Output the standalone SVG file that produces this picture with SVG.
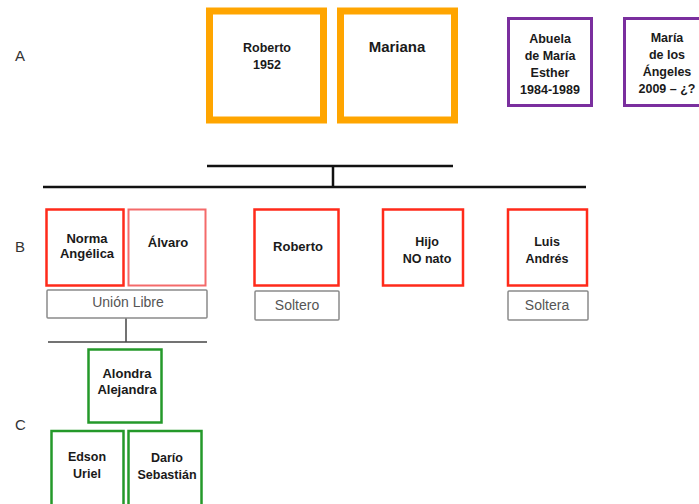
<svg xmlns="http://www.w3.org/2000/svg" width="699" height="504" viewBox="0 0 699 504">
<style>
text{font-family:"Liberation Sans",Arial,sans-serif;fill:#1a1a1a;text-anchor:middle}
.b{font-weight:bold;font-size:12.5px}
.g{font-weight:bold;font-size:13px}
.lvl{font-size:15px;fill:#333;text-anchor:start}
.st{font-size:14px;fill:#555}
.orange{fill:#fff;stroke:#FFA500;stroke-width:7}
.purple{fill:#fff;stroke:#7a2f9e;stroke-width:3}
.red{fill:#fff;stroke:#ff2a1a;stroke-width:2.5}
.red2{fill:#fff;stroke:#f46a6a;stroke-width:2}
.green{fill:#fff;stroke:#24992a;stroke-width:2.5}
.gray{fill:#fff;stroke:#8a8a8a;stroke-width:1.5}
.ln{stroke:#111;stroke-width:2.5;fill:none}
.ln2{stroke:#444;stroke-width:1.5;fill:none}
</style>
<rect width="699" height="504" fill="#fff"/>
<g id="levels">
<text class="lvl" x="15" y="61">A</text>
<text class="lvl" x="15" y="252">B</text>
<text class="lvl" x="15" y="430">C</text>
</g>
<g id="connectors">
<line class="ln" x1="207" y1="166" x2="453" y2="166"/>
<line class="ln" x1="43" y1="187" x2="586" y2="187"/>
<line class="ln" x1="333" y1="166" x2="333" y2="187"/>
<line class="ln2" x1="126" y1="318" x2="126" y2="342"/>
<line class="ln2" x1="48" y1="342" x2="207" y2="342"/>
</g>
<g id="roberto1952">
<rect class="orange" x="209.5" y="11" width="114" height="109"/>
<text class="b" x="267" y="52">Roberto</text>
<text class="b" x="267" y="69">1952</text>
</g>
<g id="mariana">
<rect class="orange" x="340.5" y="11" width="114" height="109"/>
<text class="g" x="397" y="52" style="font-size:15px">Mariana</text>
</g>
<g id="abuela">
<rect class="purple" x="508.5" y="18.5" width="83" height="87"/>
<text class="b" x="550" y="43">Abuela</text>
<text class="b" x="550" y="60">de María</text>
<text class="b" x="550" y="77">Esther</text>
<text class="b" x="550" y="94">1984-1989</text>
</g>
<g id="mariaangeles">
<rect class="purple" x="624.5" y="18.5" width="85" height="87"/>
<text class="b" x="667" y="42">María</text>
<text class="b" x="667" y="59">de los</text>
<text class="b" x="667" y="76">Ángeles</text>
<text class="b" x="667" y="93">2009 – ¿?</text>
</g>
<g id="norma">
<rect class="red" x="46.5" y="209.5" width="77" height="76"/>
<text class="g" x="87" y="243">Norma</text>
<text class="g" x="87" y="258">Angélica</text>
</g>
<g id="alvaro">
<rect class="red2" x="128.5" y="209.5" width="77" height="76"/>
<text class="g" x="168" y="247">Álvaro</text>
</g>
<g id="union">
<rect class="gray" x="47" y="290" width="160" height="28" rx="1"/>
<text class="st" x="128" y="307">Unión Libre</text>
</g>
<g id="roberto">
<rect class="red" x="254.5" y="209.5" width="84" height="76"/>
<text class="g" x="298" y="251">Roberto</text>
</g>
<g id="soltero">
<rect class="gray" x="255" y="291" width="84" height="29" rx="1"/>
<text class="st" x="297" y="310">Soltero</text>
</g>
<g id="hijo">
<rect class="red" x="383" y="209.5" width="80" height="76"/>
<text class="b" x="427" y="246">Hijo</text>
<text class="b" x="427" y="263">NO nato</text>
</g>
<g id="luis">
<rect class="red" x="508" y="209.5" width="79" height="76"/>
<text class="b" x="547" y="246">Luis</text>
<text class="b" x="547" y="263">Andrés</text>
</g>
<g id="soltera">
<rect class="gray" x="508" y="291" width="80" height="29" rx="1"/>
<text class="st" x="547" y="310">Soltera</text>
</g>
<g id="alondra">
<rect class="green" x="88.5" y="349.5" width="73" height="73"/>
<text class="g" x="127" y="378">Alondra</text>
<text class="g" x="127" y="394">Alejandra</text>
</g>
<g id="edson">
<rect class="green" x="51.5" y="431" width="72" height="80"/>
<text class="b" x="87" y="461">Edson</text>
<text class="b" x="87" y="478">Uriel</text>
</g>
<g id="dario">
<rect class="green" x="128.5" y="431" width="73" height="80"/>
<text class="b" x="167" y="462">Darío</text>
<text class="b" x="167" y="479">Sebastián</text>
</g>
</svg>
